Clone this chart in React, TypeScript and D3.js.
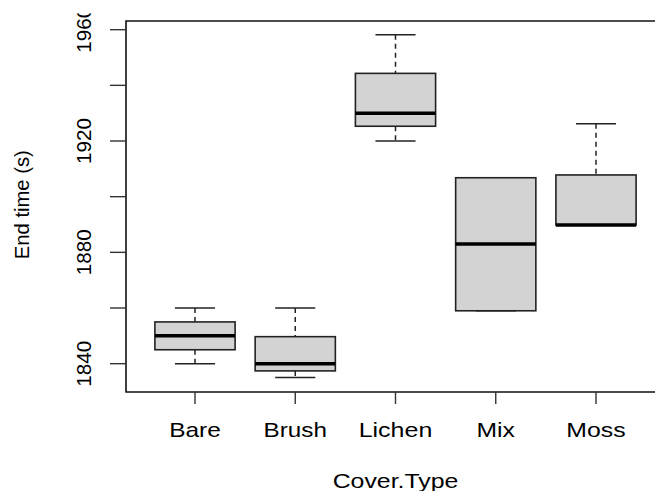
import React from "react";
import * as d3 from "d3";

const categories = ["Bare", "Brush", "Lichen", "Mix", "Moss"];
const lowerWhisker = [1840, 1835, 1920, 1859, 1889.8];
const lowerHinge = [1845, 1837.4, 1925.3, 1859, 1889.8];
const medians = [1850, 1840, 1930, 1883, 1889.8];
const upperHinge = [1855, 1849.7, 1944.3, 1906.8, 1907.8];
const upperWhisker = [1860, 1860, 1958.2, 1906.8, 1926.2];
const yTicks = [1840, 1860, 1880, 1900, 1920, 1940, 1960];
const yTickLabels = ["1840", "", "1880", "", "1920", "", "1960"];
const xTitle = "Cover.Type";
const yTitle = "End time (s)";
const xLabelWidths = [51.7, 63.3, 73.7, 38.4, 59.3];

const W = 655;
const H = 491;
const plotLeft = 126;
const plotTop = 21;
const plotBottom = 392;
const plotRight = 665;

export default function App() {
  const x = d3.scaleLinear().domain([1, 5]).range([195, 596]);
  const y = d3.scaleLinear().domain([1840, 1960]).range([363.67, 29.67]);
  const unit = x(2) - x(1);
  const boxW = 0.8 * unit;
  const capW = 0.4 * unit;
  const font = "'Liberation Sans', Arial, Helvetica, sans-serif";

  return (
    <svg
      width={W}
      height={H}
      style={{ position: "absolute", left: 0, top: 0, background: "#fff" }}
      fontFamily={font}
    >
      <defs>
        <clipPath id="topclip">
          <rect x={0} y={13.3} width={W} height={H} />
        </clipPath>
      </defs>
      <rect x={0} y={0} width={W} height={H} fill="#fff" />
      {categories.map((c, i) => {
        const cx = x(i + 1);
        return (
          <g key={c}>
            <line x1={cx} x2={cx} y1={y(upperWhisker[i])} y2={y(upperHinge[i])} stroke="#222" strokeWidth={1.5} strokeDasharray="5,4" />
            <line x1={cx} x2={cx} y1={y(lowerHinge[i])} y2={y(lowerWhisker[i])} stroke="#222" strokeWidth={1.5} strokeDasharray="5,4" />
            <line x1={cx - capW / 2} x2={cx + capW / 2} y1={y(upperWhisker[i])} y2={y(upperWhisker[i])} stroke="#222" strokeWidth={1.5} />
            <line x1={cx - capW / 2} x2={cx + capW / 2} y1={y(lowerWhisker[i])} y2={y(lowerWhisker[i])} stroke="#222" strokeWidth={1.5} />
            <rect
              x={cx - boxW / 2}
              y={y(upperHinge[i])}
              width={boxW}
              height={y(lowerHinge[i]) - y(upperHinge[i])}
              fill="#d3d3d3"
              stroke="#222"
              strokeWidth={1.6}
            />
            <line x1={cx - boxW / 2} x2={cx + boxW / 2} y1={y(medians[i])} y2={y(medians[i])} stroke="#000" strokeWidth={3.5} />
          </g>
        );
      })}
      {/* frame */}
      <path
        d={`M${plotRight},${plotTop}H${plotLeft}V${plotBottom}H${plotRight}`}
        fill="none"
        stroke="#111"
        strokeWidth={1.6}
      />
      {/* y axis ticks */}
      {yTicks.map((t, i) => (
        <g key={t}>
          <line x1={110} x2={plotLeft} y1={y(t)} y2={y(t)} stroke="#333" strokeWidth={1.4} />
          {yTickLabels[i] && (
            <text
              transform={`translate(90.7,${y(t)}) rotate(-90)`}
              textAnchor="middle"
              fontSize={20}
              textLength={46}
              lengthAdjust="spacingAndGlyphs"
              fill="#000"
              clipPath={t === 1960 ? undefined : undefined}
            >
              {yTickLabels[i]}
            </text>
          )}
        </g>
      ))}
      {/* x axis ticks */}
      {categories.map((c, i) => (
        <g key={c}>
          <line x1={x(i + 1)} x2={x(i + 1)} y1={plotBottom} y2={404} stroke="#333" strokeWidth={1.4} />
          <text
            x={x(i + 1)}
            y={436.7}
            textAnchor="middle"
            fontSize={21}
            textLength={xLabelWidths[i]}
            lengthAdjust="spacingAndGlyphs"
            fill="#000"
          >
            {c}
          </text>
        </g>
      ))}
      <text
        x={395.5}
        y={488}
        textAnchor="middle"
        fontSize={21}
        textLength={125.6}
        lengthAdjust="spacingAndGlyphs"
        fill="#000"
      >
        {xTitle}
      </text>
      <text
        transform={`translate(28.7,204.7) rotate(-90)`}
        textAnchor="middle"
        fontSize={20}
        textLength={109}
        lengthAdjust="spacingAndGlyphs"
        fill="#000"
      >
        {yTitle}
      </text>
      {/* mask top to mimic the cropped 1960 label */}
      <rect x={60} y={0} width={50} height={13.3} fill="#fff" />
    </svg>
  );
}
